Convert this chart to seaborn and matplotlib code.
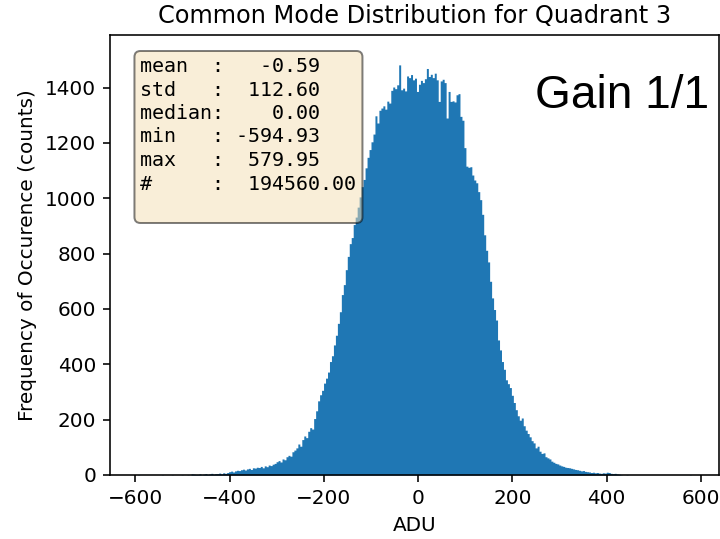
import numpy as np
import pandas as pd
import matplotlib
matplotlib.use("Agg")
import matplotlib.pyplot as plt
import seaborn as sns

# Histogram of the common-mode values (ADU), bin counts per bin
adu_min, adu_max = -594.93, 579.95

left_tail = [
    1, 0, 0, 0, 0, 0, 0, 0, 0, 0,
    0, 0, 1, 0, 0, 0, 0, 1, 0, 0,
    0, 0, 1, 0, 0, 1, 0, 4, 3, 2,
    2, 4, 1, 3, 5, 2, 4, 6, 3, 5,
    5, 7, 4, 8, 6, 9, 12, 14, 11, 15,
]
left_flank = [
    17, 16, 19, 21, 18, 22, 24, 20, 26, 25,
    28, 27, 31, 26, 33, 30, 36, 34, 39, 42,
    48, 52, 47, 58, 55, 66, 71, 68, 84, 90,
    98, 112, 104, 128, 141, 135, 158, 171, 166, 204,
    232, 268, 290, 306, 332, 350, 372, 410, 431, 470,
]
core = [
    505, 548, 590, 652, 688, 742, 790, 836, 858, 905,
    932, 968, 1005, 1042, 1068, 1110, 1148, 1176, 1204, 1232,
    1298, 1272, 1318, 1326, 1334, 1322, 1351, 1344, 1390, 1402,
    1396, 1410, 1482, 1392, 1398, 1388, 1442, 1436, 1447, 1428,
    1434, 1386, 1412, 1426, 1418, 1432, 1469, 1440, 1448, 1436,
    1452, 1428, 1350, 1424, 1430, 1418, 1290, 1386, 1350, 1352,
    1348, 1374, 1378, 1296, 1282, 1183, 1116, 1112, 1114, 1084,
    1066, 1056, 1024, 995, 942, 868, 812, 770, 700, 640,
]
right_flank = [
    598, 560, 488, 452, 410, 382, 344, 330, 316, 288,
    262, 236, 214, 198, 206, 178, 162, 150, 138, 124,
    116, 98, 104, 86, 78, 80, 66, 62, 58, 50,
    46, 42, 40, 36, 33, 31, 28, 27, 26, 24,
    22, 20, 19, 17, 15, 16, 13, 12, 11, 9,
]
right_tail = [
    10, 8, 9, 7, 6, 8, 7, 10, 9, 6,
    5, 6, 4, 3, 1, 0, 0, 1, 0, 0,
    0, 0, 0, 0, 0, 0, 0, 0, 0, 0,
    0, 0, 0, 0, 0, 0, 0, 0, 0, 0,
    0, 0, 0, 0, 0, 0, 0, 0, 0, 1,
]

stat_lines = [
    "mean  :   -0.59",
    "std   :  112.60",
    "median:    0.00",
    "min   : -594.93",
    "max   :  579.95",
    "#     :  194560.00",
]

counts = np.array(left_tail + left_flank + core + right_flank + right_tail, dtype=float)
edges = np.linspace(adu_min, adu_max, len(counts) + 1)
centers = 0.5 * (edges[:-1] + edges[1:])
df = pd.DataFrame({"ADU": centers, "counts": counts})

fig = plt.figure(figsize=(720 / 144, 539 / 144), dpi=144)
ax = fig.add_axes([110 / 720, 1 - 475 / 539, 609 / 720, 440 / 539])

sns.histplot(data=df, x="ADU", weights="counts", bins=edges.tolist(),
             element="step", fill=True, color="#1f77b4", alpha=1,
             linewidth=0, ax=ax)

ax.set_xlim(-653.67, 638.69)
ax.set_ylim(0, 1590)
ax.set_xlabel("ADU")
ax.set_ylabel("Frequency of Occurence (counts)")
ax.set_title("Common Mode Distribution for Quadrant 3")

ax.text(0.05, 0.95, "\n".join(stat_lines) + "\n", transform=ax.transAxes,
        fontsize=10, family="monospace", va="top", ha="left", linespacing=1.3,
        bbox=dict(boxstyle="round", facecolor="wheat", alpha=0.5))

fig.text(535 / 720, 1 - 108 / 539, "Gain 1/1", fontsize=23,
         family="Liberation Sans", ha="left", va="baseline", color="black")

fig.savefig("out.png", dpi=144)
